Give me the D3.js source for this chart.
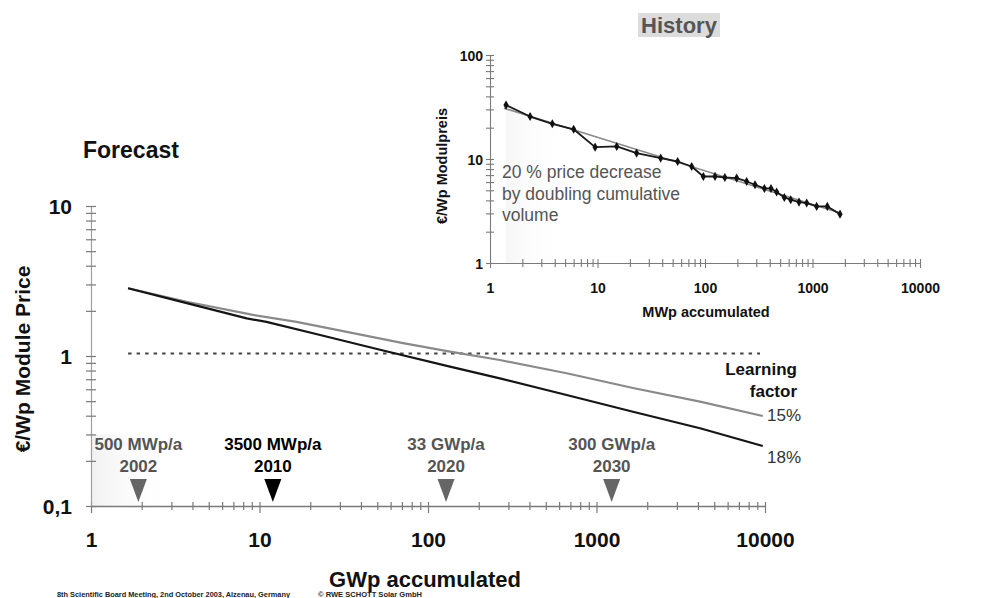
<!DOCTYPE html>
<html><head><meta charset="utf-8">
<script src="https://cdn.jsdelivr.net/npm/d3@7"></script>
<style>
body{margin:0;background:#fff}
svg{display:block;font-family:"Liberation Sans",Arial,Helvetica,sans-serif}
</style>
</head><body>
<svg id="c" width="988" height="598"></svg>
<script>
// ---------- DATA ----------
// Forecast (main chart): GWp accumulated vs €/Wp module price
const forecastX15 = [1.66, 3.7, 9.15, 16.6, 35.9, 71.1, 135, 267, 665, 1647, 4115, 9700];
const forecast15  = [2.83, 2.30, 1.88, 1.69, 1.42, 1.22, 1.07, 0.94, 0.767, 0.612, 0.496, 0.398];
const forecastX18 = [1.66, 3.7, 8.4, 11, 22.9, 51.9, 135, 267, 665, 1647, 4115, 9700];
const forecast18  = [2.83, 2.25, 1.78, 1.69, 1.38, 1.10, 0.849, 0.71, 0.55, 0.425, 0.33, 0.251];
const targetPriceX = [1.66, 9340];
const targetPrice  = [1.04, 1.04];
const seriesNames = ["15%", "18%"];
const markerYears = ["2002", "2010", "2020", "2030"];
const markerCapacity = ["500 MWp/a", "3500 MWp/a", "33 GWp/a", "300 GWp/a"];
const markerGWp = [1.91, 12, 128, 1230];
const highlightYear = "2010";
const mainXTicks = [1, 10, 100, 1000, 10000];
const mainXTickLabels = ["1", "10", "100", "1000", "10000"];
const mainYTicks = [0.1, 1, 10];
const mainYTickLabels = ["0,1", "1", "10"];

// History (inset): MWp accumulated vs €/Wp module price
const historyMWp = [1.41, 2.36, 3.8, 6.0, 9.5, 15.1, 23.1, 38.7, 55.7, 75.2, 96.5, 124, 153, 197, 244, 292, 357, 411, 464, 547, 627, 749, 883, 1093, 1374, 1803];
const historyPrice = [33, 25.6, 21.8, 19.3, 13.0, 13.2, 11.4, 10.2, 9.46, 8.47, 6.79, 6.8, 6.64, 6.55, 6.08, 5.65, 5.21, 5.21, 4.81, 4.27, 4.06, 3.85, 3.77, 3.5, 3.5, 2.95];
const trendMWp = [1.35, 1750];
const trendPrice = [30.8, 3.06];
const insetXTicks = [1, 10, 100, 1000, 10000];
const insetXTickLabels = ["1", "10", "100", "1000", "10000"];
const insetYTicks = [1, 10, 100];
const insetYTickLabels = ["1", "10", "100"];

// ---------- HELPERS ----------
function minorTicks(lo, hi) {
  const out = [];
  for (let e = Math.round(Math.log10(lo)); e < Math.round(Math.log10(hi)); e++)
    for (let m = 1; m < 10; m++) out.push(m * Math.pow(10, e));
  out.push(hi);
  return out;
}
const isMajor = d => Math.abs(Math.log10(d) - Math.round(Math.log10(d))) < 1e-9;
const zip = (a, b) => a.map((v, i) => [v, b[i]]);

const svg = d3.select("#c");
const defs = svg.append("defs");
const g1 = defs.append("linearGradient").attr("id", "fadeMain")
  .attr("gradientUnits", "userSpaceOnUse").attr("x1", 91).attr("x2", 175).attr("y1", 0).attr("y2", 0);
g1.append("stop").attr("offset", 0).attr("stop-color", "#e8e8e8").attr("stop-opacity", 0.6);
g1.append("stop").attr("offset", 1).attr("stop-color", "#ffffff").attr("stop-opacity", 0);
const g2 = defs.append("linearGradient").attr("id", "fadeInset")
  .attr("gradientUnits", "userSpaceOnUse").attr("x1", 490).attr("x2", 570).attr("y1", 0).attr("y2", 0);
g2.append("stop").attr("offset", 0).attr("stop-color", "#e8e8e8").attr("stop-opacity", 0.55);
g2.append("stop").attr("offset", 1).attr("stop-color", "#ffffff").attr("stop-opacity", 0);

// ---------- MAIN CHART ----------
const x = d3.scaleLog().domain([1, 10000]).range([91, 765]);
const y = d3.scaleLog().domain([0.1, 10]).range([506, 206]);
const axisCol = "#7a7a7a";

// faint shading bottom-left
svg.append("rect").attr("x", x(1)).attr("y", y(0.3)).attr("width", x(3.2) - x(1))
  .attr("height", y(0.1) - y(0.3)).attr("fill", "url(#fadeMain)");

// x axis
const gx = svg.append("g").attr("transform", `translate(0,${y(0.1)})`)
  .call(d3.axisBottom(x).tickValues(minorTicks(1, 10000)).tickFormat("").tickSizeOuter(0));
gx.select(".domain").attr("stroke", axisCol).attr("stroke-width", 1.3);
gx.selectAll(".tick line").attr("stroke", axisCol).attr("stroke-width", 1.2)
  .attr("y1", -4).attr("y2", d => isMajor(d) ? 7 : 4);
const gxl = svg.append("g").attr("transform", `translate(0,${y(0.1)})`)
  .call(d3.axisBottom(x).tickValues(mainXTicks).tickFormat((d, i) => mainXTickLabels[i]).tickSize(0));
gxl.select(".domain").remove();
gxl.selectAll("text").attr("y", 41).attr("dy", 0).attr("fill", "#111")
  .style("font-size", "21px").style("font-weight", "bold").style("font-family", "Liberation Sans, Arial, sans-serif");

// y axis
const gy = svg.append("g").attr("transform", `translate(${x(1)},0)`)
  .call(d3.axisLeft(y).tickValues(minorTicks(0.1, 10)).tickFormat("").tickSizeOuter(0));
gy.select(".domain").attr("stroke", "#a0a0a0").attr("stroke-width", 1.2);
gy.selectAll(".tick line").attr("stroke", axisCol).attr("stroke-width", 1.2).attr("x1", -5).attr("x2", 5);
const gyl = svg.append("g").attr("transform", `translate(${x(1)},0)`)
  .call(d3.axisLeft(y).tickValues(mainYTicks).tickFormat((d, i) => mainYTickLabels[i]).tickSize(0));
gyl.select(".domain").remove();
gyl.selectAll("text").attr("x", -19).attr("dy", "0.36em").attr("fill", "#111")
  .style("font-size", "21px").style("font-weight", "bold").style("font-family", "Liberation Sans, Arial, sans-serif");

// lines
const lineMain = d3.line().x(d => x(d[0])).y(d => y(d[1]));
svg.append("path").datum(zip(targetPriceX, targetPrice)).attr("d", lineMain)
  .attr("fill", "none").attr("stroke", "#444").attr("stroke-width", 2).attr("stroke-dasharray", "3.5,5");
svg.append("path").datum(zip(forecastX15, forecast15)).attr("d", lineMain)
  .attr("fill", "none").attr("stroke", "#8a8a8a").attr("stroke-width", 2.2).attr("stroke-linejoin", "round");
svg.append("path").datum(zip(forecastX18, forecast18)).attr("d", lineMain)
  .attr("fill", "none").attr("stroke", "#151515").attr("stroke-width", 2.2).attr("stroke-linejoin", "round");

// markers
const tipY = y(0.1) - 4;
const mk = svg.append("g").selectAll("g").data(markerYears).join("g");
mk.append("path")
  .attr("d", (d, i) => { const cx = x(markerGWp[i]); return `M${cx - 8.5},${tipY - 23}L${cx + 8.5},${tipY - 23}L${cx},${tipY}Z`; })
  .attr("fill", d => d === highlightYear ? "#000" : "#666");
mk.append("text").attr("x", (d, i) => x(markerGWp[i])).attr("y", tipY - 52)
  .attr("text-anchor", "middle").attr("font-size", 17).attr("font-weight", "bold")
  .attr("fill", d => d === highlightYear ? "#000" : "#555").text((d, i) => markerCapacity[i]);
mk.append("text").attr("x", (d, i) => x(markerGWp[i])).attr("y", tipY - 30)
  .attr("text-anchor", "middle").attr("font-size", 17).attr("font-weight", "bold")
  .attr("fill", d => d === highlightYear ? "#000" : "#555").text(d => d);

// legend / series labels
svg.append("text").attr("x", 797).attr("y", 375).attr("text-anchor", "end")
  .attr("font-size", 17).attr("font-weight", "bold").attr("fill", "#111").text("Learning");
svg.append("text").attr("x", 797).attr("y", 397).attr("text-anchor", "end")
  .attr("font-size", 17).attr("font-weight", "bold").attr("fill", "#111").text("factor");
svg.append("text").attr("x", 767).attr("y", y(forecast15[forecast15.length - 1]) + 5)
  .attr("font-size", 17).attr("fill", "#333").text(seriesNames[0]);
svg.append("text").attr("x", 767).attr("y", y(forecast18[forecast18.length - 1]) + 17)
  .attr("font-size", 17).attr("fill", "#333").text(seriesNames[1]);

// titles
svg.append("text").attr("x", 83).attr("y", 158).attr("font-size", 23).attr("font-weight", "bold")
  .attr("fill", "#111").text("Forecast");
svg.append("text").attr("x", 425).attr("y", 587).attr("text-anchor", "middle").attr("font-size", 22)
  .attr("font-weight", "bold").attr("fill", "#111").text("GWp accumulated");
svg.append("text").attr("transform", "translate(30,359) rotate(-90)").attr("text-anchor", "middle")
  .attr("font-size", 21).attr("font-weight", "bold").attr("fill", "#111").text("€/Wp Module Price");

// footer
svg.append("text").attr("x", 57).attr("y", 597).attr("font-size", 6.5).attr("font-weight", "bold")
  .attr("fill", "#222").attr("textLength", 233).attr("lengthAdjust", "spacingAndGlyphs")
  .text("8th Scientific Board Meeting, 2nd October 2003, Alzenau, Germany");
svg.append("text").attr("x", 318).attr("y", 597).attr("font-size", 6.5).attr("font-weight", "bold")
  .attr("fill", "#222").attr("textLength", 104).attr("lengthAdjust", "spacingAndGlyphs")
  .text("© RWE SCHOTT Solar GmbH");

// ---------- INSET (History) ----------
const ix = d3.scaleLog().domain([1, 10000]).range([490, 920]);
const iy = d3.scaleLog().domain([1, 100]).range([263, 55]);

const hist = zip(historyMWp, historyPrice);
svg.append("path").datum(hist)
  .attr("d", d3.area().x(d => ix(d[0])).y0(iy(1)).y1(d => iy(d[1])))
  .attr("fill", "url(#fadeInset)");

const ixa = svg.append("g").attr("transform", `translate(0,${iy(1)})`)
  .call(d3.axisBottom(ix).tickValues(minorTicks(1, 10000)).tickFormat("").tickSizeOuter(0));
ixa.select(".domain").attr("stroke", axisCol).attr("stroke-width", 1.1);
ixa.selectAll(".tick line").attr("stroke", axisCol).attr("stroke-width", 1.1)
  .attr("y1", -4).attr("y2", d => isMajor(d) ? 5 : 4);
const ixl = svg.append("g").attr("transform", `translate(0,${iy(1)})`)
  .call(d3.axisBottom(ix).tickValues(insetXTicks).tickFormat((d, i) => insetXTickLabels[i]).tickSize(0));
ixl.select(".domain").remove();
ixl.selectAll("text").attr("y", 30).attr("dy", 0).attr("fill", "#111")
  .style("font-size", "14px").style("font-weight", "bold").style("font-family", "Liberation Sans, Arial, sans-serif");

const iya = svg.append("g").attr("transform", `translate(${ix(1)},0)`)
  .call(d3.axisLeft(iy).tickValues(minorTicks(1, 100)).tickFormat("").tickSizeOuter(0));
iya.select(".domain").attr("stroke", axisCol).attr("stroke-width", 1.1);
iya.selectAll(".tick line").attr("stroke", axisCol).attr("stroke-width", 1.1).attr("x1", -4).attr("x2", 4);
const iyl = svg.append("g").attr("transform", `translate(${ix(1)},0)`)
  .call(d3.axisLeft(iy).tickValues(insetYTicks).tickFormat((d, i) => insetYTickLabels[i]).tickSize(0));
iyl.select(".domain").remove();
iyl.selectAll("text").attr("x", -7).attr("dy", "0.36em").attr("fill", "#111")
  .style("font-size", "14px").style("font-weight", "bold").style("font-family", "Liberation Sans, Arial, sans-serif");

const lineIn = d3.line().x(d => ix(d[0])).y(d => iy(d[1]));
svg.append("path").datum(zip(trendMWp, trendPrice)).attr("d", lineIn)
  .attr("fill", "none").attr("stroke", "#8a8a8a").attr("stroke-width", 1.6);
svg.append("path").datum(hist).attr("d", lineIn)
  .attr("fill", "none").attr("stroke", "#1a1a1a").attr("stroke-width", 1.8).attr("stroke-linejoin", "round");
svg.append("g").selectAll("path").data(hist).join("path")
  .attr("transform", d => `translate(${ix(d[0])},${iy(d[1])})`)
  .attr("d", d3.symbol(d3.symbolDiamond, 24)).attr("fill", "#111");

// inset texts
svg.append("rect").attr("x", 638).attr("y", 13).attr("width", 82).attr("height", 24).attr("fill", "#dcdcdc");
svg.append("text").attr("x", 679).attr("y", 33).attr("text-anchor", "middle").attr("font-size", 22)
  .attr("font-weight", "bold").attr("fill", "#555").text("History");
svg.append("text").attr("x", 706).attr("y", 317).attr("text-anchor", "middle").attr("font-size", 14.5)
  .attr("font-weight", "bold").attr("fill", "#111").text("MWp accumulated");
svg.append("text").attr("transform", "translate(447,166) rotate(-90)").attr("text-anchor", "middle")
  .attr("font-size", 14.5).attr("font-weight", "bold").attr("fill", "#111").text("€/Wp Modulpreis");
const ann = ["20 % price decrease", "by doubling cumulative", "volume"];
svg.append("g").selectAll("text").data(ann).join("text")
  .attr("x", 502).attr("y", (d, i) => 178 + i * 21.5).attr("font-size", 17.5).attr("fill", "#555").text(d => d);
</script>
</body></html>
